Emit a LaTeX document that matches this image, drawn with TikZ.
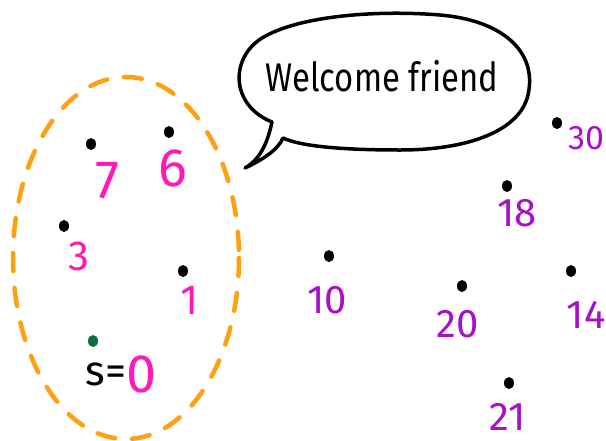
\documentclass[tikz,border=0pt]{standalone}
\usepackage{fontspec}
\setmainfont{Fira Sans}
\usetikzlibrary{shapes.geometric}
\definecolor{pinkish}{HTML}{FF1AB8}
\definecolor{violetish}{HTML}{A80FC8}
\definecolor{orangish}{HTML}{FFA010}
\definecolor{greenish}{HTML}{0A7040}
\tikzset{
  vert/.style={ellipse, fill=black, inner sep=0pt, minimum width=10pt, minimum height=12pt},
  bignum/.style={text=pinkish, font=\fontsize{54}{54}\selectfont, inner sep=0pt},
  smallnum/.style={text=pinkish, font=\fontsize{42}{42}\selectfont, inner sep=0pt},
  farnum/.style={text=violetish, font=\fontsize{40}{40}\selectfont, inner sep=0pt}
}
\begin{document}
\begin{tikzpicture}[x=1pt, y=-1pt, line cap=round, line join=round]
        \useasboundingbox (0,0) rectangle (606,440);
        % the set
        \draw[orangish, line width=4.5pt, dash pattern=on 18pt off 17pt] (126,258) ellipse [x radius=113, y radius=181];
        % dots inside the set
        \node[vert] (d7) at (91,144) {};
        \node[vert] (d6) at (169,132) {};
        \node[vert] (d3) at (64,226) {};
        \node[vert] (d1) at (183,271) {};
        \node[vert, fill=greenish] (ds) at (93,341) {};
        \node[bignum] (l7) at (107,181) {7};
        \node[bignum] (l6) at (173,168) {6};
        \node[smallnum] (l3) at (79,256) {3};
        \node[smallnum] (l1) at (190,300) {1};
        \node[inner sep=0pt, font=\fontsize{42}{42}\selectfont] (ls) at (106,374) {s=};
        \node[bignum, anchor=west] (l0) at (ls.east) {0};
        % dots outside
        \node[vert] (d10) at (329,256) {};
        \node[vert] (d18) at (507,186) {};
        \node[vert] (d30) at (557,123) {};
        \node[vert] (d20) at (462,286) {};
        \node[vert] (d14) at (571,271) {};
        \node[vert] (d21) at (509,383) {};
        \node[farnum] (l10) at (327,300) {10};
        \node[farnum] (l18) at (517,213) {18};
        \node[farnum, font=\fontsize{34}{34}\selectfont] (l30) at (586,138) {30};
        \node[farnum] (l20) at (458,324) {20};
        \node[farnum] (l14) at (586,315) {14};
        \node[farnum] (l21) at (508,417) {21};
        % speech bubble
        \coordinate (tip) at (245,168);
        \coordinate (ja) at (272,122);
        \coordinate (jb) at (283,138);
        \draw[line width=3.5pt] (jb) .. controls (300,146) and (340,150) .. (400,150)
          .. controls (470,150) and (520,130) .. (528,95)
          .. controls (538,50) and (500,20) .. (440,15)
          .. controls (380,10) and (300,15) .. (262,38)
          .. controls (230,58) and (230,105) .. (ja)
          .. controls (268,140) and (262,158) .. (tip)
          .. controls (262,160) and (278,150) .. (jb);
        \node[inner sep=0pt, font=\fontsize{40}{40}\selectfont] (msg) at (382,76) {\scalebox{0.82}[1]{Welcome friend}};
    \end{tikzpicture}
\end{document}
